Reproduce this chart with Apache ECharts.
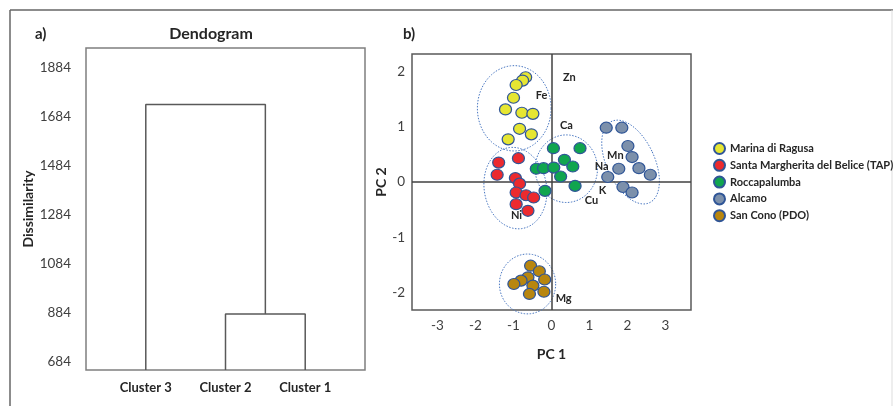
<!DOCTYPE html>
<html>
<head>
<meta charset="utf-8">
<script src="https://cdn.jsdelivr.net/npm/echarts@6/dist/echarts.min.js"></script>
<style>
html,body{margin:0;padding:0;background:#fff;}
#c{width:893px;height:406px;}
</style>
</head>
<body>
<div id="c"></div>
<script>
// ---- Dendrogram data ----
var clusters = ['Cluster 3', 'Cluster 2', 'Cluster 1'];
var dissimTicks = [684, 884, 1084, 1284, 1484, 1684, 1884];
var mergeLow = 880;    // Cluster 2 + Cluster 1
var mergeHigh = 1735;  // Cluster 3 + (Cluster 2, Cluster 1)

// ---- PCA scores ----
var siteNames = ['Marina di Ragusa', 'Santa Margherita del Belice (TAP)', 'Roccapalumba', 'Alcamo', 'San Cono (PDO)'];
var ragusa = [[-0.68,1.89],[-0.76,1.83],[-0.93,1.75],[-1.00,1.52],[-1.21,1.31],[-0.78,1.25],[-0.49,1.23],[-0.84,0.96],[-0.53,0.86],[-1.14,0.77]];
var margherita = [[-1.39,0.35],[-0.87,0.43],[-1.43,0.13],[-0.95,0.07],[-0.84,-0.03],[-0.93,-0.19],[-0.67,-0.24],[-0.47,-0.28],[-0.93,-0.40],[-0.62,-0.52]];
var roccapalumba = [[0.05,0.61],[0.75,0.61],[-0.40,0.24],[-0.21,0.25],[0.06,0.26],[0.34,0.40],[0.56,0.28],[0.24,0.10],[0.62,-0.07],[-0.17,-0.16]];
var alcamo = [[1.44,0.98],[1.85,0.98],[2.01,0.65],[2.12,0.45],[1.77,0.24],[2.30,0.25],[2.60,0.13],[1.48,0.09],[1.88,-0.09],[2.12,-0.19]];
var sanCono = [[-0.55,-1.51],[-0.32,-1.61],[-0.18,-1.76],[-0.62,-1.72],[-0.80,-1.78],[-0.99,-1.84],[-0.49,-1.87],[-0.58,-2.02],[-0.20,-1.98]];

// ---- PCA loadings labels ----
var loadingNames = ['Zn','Fe','Ca','Mn','Na','K','Cu','Ni','Mg'];
var loadingX = [0.47,-0.26,0.39,1.68,1.32,1.34,1.05,-0.92,0.32];
var loadingY = [1.89,1.56,1.02,0.48,0.28,-0.16,-0.33,-0.60,-2.10];

// ---- Group ellipses: [cx, cy, rx, ry, rotationDeg] ----
var groupEllipses = [[-0.98,1.33,0.97,0.77,0],[-0.95,-0.11,0.82,0.74,10],[0.39,0.24,0.82,0.61,0],[2.08,0.36,0.63,0.81,25],[-0.63,-1.84,0.74,0.54,0]];

var pcXTicks = [-3,-2,-1,0,1,2,3];
var pcYTicks = [-2,-1,0,1,2];

var siteColors = ['#E6E632','#EC2A2E','#10A54F','#7C90AB','#B8860F'];
var tickFont = "Lato,'Liberation Sans',sans-serif";
var boldFont = "Lato,'Liberation Sans',sans-serif";

var yMin = 651, yMax = 1966;
var dendroLines = [
  [[0, yMin],[0, mergeHigh],[1.5, mergeHigh],[1.5, mergeLow]],
  [[1, yMin],[1, mergeLow],[2, mergeLow],[2, yMin]]
];

var chart = echarts.init(document.getElementById('c'), null, {renderer:'canvas'});

var siteData = [ragusa, margherita, roccapalumba, alcamo, sanCono];
var series = [];
dendroLines.forEach(function(d){
  series.push({type:'line', xAxisIndex:0, yAxisIndex:0, data:d, symbol:'none',
    lineStyle:{color:'#595959', width:1.5}, silent:true, z:3});
});
series.push({
  type:'custom', xAxisIndex:1, yAxisIndex:1, data:groupEllipses, clip:false, silent:true, z:1,
  renderItem:function(params, api){
    var c = api.coord([api.value(0), api.value(1)]);
    var s = api.size([api.value(2), api.value(3)]);
    var th = api.value(4) * Math.PI / 180;
    var pts = [];
    for (var i = 0; i < 90; i++) {
      var t = i / 90 * Math.PI * 2;
      var x = s[0] * Math.cos(t), y = s[1] * Math.sin(t);
      pts.push([c[0] + x * Math.cos(th) + y * Math.sin(th), c[1] - x * Math.sin(th) + y * Math.cos(th)]);
    }
    return {type:'polygon', shape:{points:pts}, style:{fill:'none', stroke:'#4A78C2', lineWidth:1, lineDash:[1.5,1.5]}};
  }
});
siteData.forEach(function(d, i){
  var s = {type:'scatter', name:siteNames[i], xAxisIndex:1, yAxisIndex:1, data:d, symbol:'circle',
    symbolSize:[12,11], itemStyle:{color:siteColors[i], borderColor:'#2F5597', borderWidth:1.2, opacity:1}, z:5};
  if (i === 0) {
    s.markLine = {silent:true, symbol:'none', label:{show:false}, animation:false,
      lineStyle:{color:'#404040', width:1.5, type:'solid'},
      data:[{xAxis:0},{yAxis:0}]};
  }
  series.push(s);
});
series.push({
  type:'custom', xAxisIndex:1, yAxisIndex:1, silent:true, z:6, clip:false,
  data: loadingNames.map(function(n, i){ return [loadingX[i], loadingY[i], i]; }),
  renderItem:function(params, api){
    var c = api.coord([api.value(0), api.value(1)]);
    return {type:'text', x:c[0], y:c[1], style:{text:loadingNames[api.value(2)], align:'center', verticalAlign:'middle',
      fontFamily:boldFont, fontWeight:'bold', fontSize:11, fill:'#262626'}};
  }
});

chart.setOption({
  animation:false,
  backgroundColor:'#fff',
  textStyle:{fontFamily:boldFont},
  title:[
    {text:'a)', left:30, top:22, textStyle:{fontFamily:boldFont, fontWeight:'bold', fontSize:15, color:'#262626'}},
    {text:'Dendogram', left:206, top:21, textAlign:'center', textStyle:{fontFamily:boldFont, fontWeight:'bold', fontSize:16, color:'#262626'}},
    {text:'b)', left:398, top:22, textStyle:{fontFamily:boldFont, fontWeight:'bold', fontSize:15, color:'#262626'}}
  ],
  legend:{
    orient:'vertical', left:708, top:137, itemWidth:11, itemHeight:11, itemGap:3.8,
    icon:'circle', data:siteNames,
    textStyle:{fontFamily:boldFont, fontWeight:'bold', fontSize:11, color:'#262626'}
  },
  grid:[
    {left:86, top:48, width:279, height:322, show:true, borderColor:'#7F7F7F', borderWidth:1.5, containLabel:false, outerBoundsMode:'none'},
    {left:412, top:54, width:279, height:256, show:true, borderColor:'#595959', borderWidth:1.5, containLabel:false, outerBoundsMode:'none'}
  ],
  xAxis:[
    {type:'value', gridIndex:0, min:-0.75, max:2.75, splitLine:{show:false}, axisLine:{show:false}, axisTick:{show:false},
      axisLabel:{customValues:[0,1,2], formatter:function(v){return clusters[Math.round(v)];}, margin:11,
        fontFamily:boldFont, fontWeight:'bold', fontSize:13, color:'#262626'}},
    {type:'value', gridIndex:1, min:-3.67, max:3.67, splitLine:{show:false}, axisLine:{show:false}, axisTick:{show:false},
      name:'PC 1', nameLocation:'middle', nameGap:37, nameTextStyle:{fontFamily:boldFont, fontWeight:'bold', fontSize:14, color:'#262626'},
      axisLabel:{customValues:pcXTicks, margin:9, formatter:function(v){return String(v);}, fontFamily:tickFont, fontSize:13.5, color:'#404040'}}
  ],
  yAxis:[
    {type:'value', gridIndex:0, min:yMin, max:yMax, splitLine:{show:false}, axisLine:{show:false}, axisTick:{show:false},
      name:'Dissimilarity', nameLocation:'middle', nameGap:48, nameRotate:90,
      nameTextStyle:{fontFamily:boldFont, fontWeight:'bold', fontSize:14, color:'#262626'},
      axisLabel:{customValues:dissimTicks, margin:15, formatter:function(v){return String(v);}, fontFamily:tickFont, fontSize:13.5, color:'#404040'}},
    {type:'value', gridIndex:1, min:-2.31, max:2.31, splitLine:{show:false}, axisLine:{show:false}, axisTick:{show:false},
      name:'PC 2', nameLocation:'middle', nameGap:23, nameRotate:90,
      nameTextStyle:{fontFamily:boldFont, fontWeight:'bold', fontSize:14, color:'#262626'},
      axisLabel:{customValues:pcYTicks, margin:7, formatter:function(v){return String(v);}, fontFamily:tickFont, fontSize:13.5, color:'#404040'}}
  ],
  graphic:[
    {type:'line', shape:{x1:10, y1:10, x2:893, y2:10}, style:{stroke:'#666', lineWidth:1.5}, silent:true},
    {type:'line', shape:{x1:10, y1:10, x2:10, y2:406}, style:{stroke:'#666', lineWidth:1.5}, silent:true},
    {type:'line', shape:{x1:892, y1:10, x2:892, y2:406}, style:{stroke:'#DDD', lineWidth:1}, silent:true}
  ],
  series:series
});
</script>
</body>
</html>
